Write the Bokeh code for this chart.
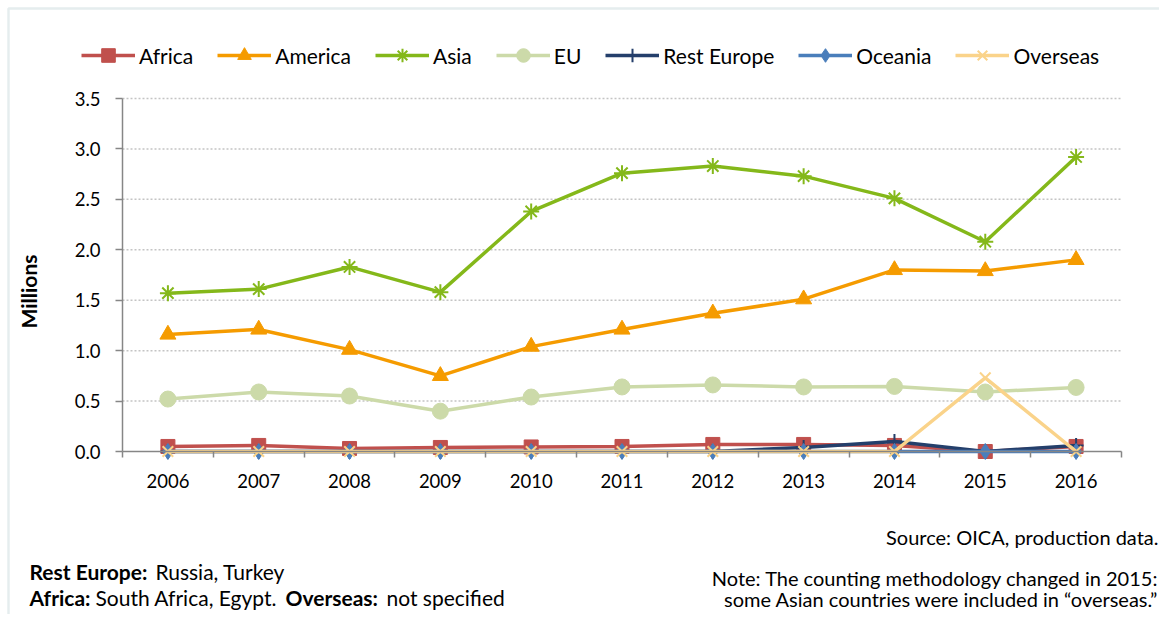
import math
from bokeh.plotting import figure
from bokeh.models import (Range1d, FixedTicker, NumeralTickFormatter, Legend, LegendItem, Label, BoxAnnotation)
from bokeh.embed import file_html
from bokeh.resources import INLINE

years = ["2006", "2007", "2008", "2009", "2010", "2011", "2012", "2013", "2014", "2015", "2016"]
africa = [0.05, 0.06, 0.03, 0.04, 0.045, 0.05, 0.07, 0.07, 0.06, 0.0, 0.05]
america = [1.16, 1.21, 1.01, 0.75, 1.04, 1.21, 1.37, 1.51, 1.80, 1.79, 1.90]
asia = [1.57, 1.61, 1.83, 1.58, 2.38, 2.76, 2.83, 2.73, 2.51, 2.08, 2.92]
eu = [0.52, 0.59, 0.55, 0.40, 0.54, 0.64, 0.66, 0.64, 0.645, 0.59, 0.635]
rest_europe = [0.0, 0.0, 0.0, 0.0, 0.0, 0.0, 0.0, 0.04, 0.10, 0.0, 0.06]
oceania = [0.0, 0.0, 0.0, 0.0, 0.0, 0.0, 0.0, 0.0, 0.0, 0.0, 0.0]
overseas = [0.0, 0.0, 0.0, 0.0, 0.0, 0.0, 0.0, 0.0, 0.0, 0.73, 0.0]
y_ticks = [0.0, 0.5, 1.0, 1.5, 2.0, 2.5, 3.0, 3.5]

FONT = "Lato"
idx = list(range(len(years)))
n = len(years)
x_lo, x_hi = -0.5, n - 0.5
y_lo, y_hi = y_ticks[0], y_ticks[-1]

W, H = 1159, 614
# plot-area placement on the canvas (pixels)
PL, PR, PT, PB = 122, 1121, 98, 451
xpu = (PR - PL) / (x_hi - x_lo)
ypu = (PB - PT) / (y_hi - y_lo)
xr = Range1d(x_lo - PL / xpu, x_hi + (W - PR) / xpu)
yr = Range1d(y_lo - (H - PB) / ypu, y_hi + PT / ypu)

p = figure(width=W, height=H, output_backend="svg", toolbar_location=None,
           x_range=xr, y_range=yr, min_border=0,
           min_border_left=0, min_border_right=0, min_border_top=0, min_border_bottom=0)
p.outline_line_color = None
p.background_fill_color = "white"
p.border_fill_color = "white"
p.grid.visible = False

# chart border
p.add_layout(BoxAnnotation(left=8, right=W + 50, bottom=-50, top=H - 8,
                           left_units="screen", right_units="screen",
                           bottom_units="screen", top_units="screen",
                           fill_color=None, line_color="#a9c4c6", line_width=2.5))

# dotted value gridlines
gy = y_ticks[1:]
p.segment(x0=[x_lo] * len(gy), y0=gy, x1=[x_hi] * len(gy), y1=gy,
          line_color="#c4c4c4", line_dash="2 2", line_width=1.5)

# axes
xa = p.xaxis[0]
xa.fixed_location = 0
xa.bounds = (x_lo, x_hi)
xa.ticker = FixedTicker(ticks=idx, minor_ticks=[i - 0.5 for i in range(n + 1)])
xa.major_label_overrides = {i: y for i, y in zip(idx, years)}
xa.major_tick_out = 0
xa.major_tick_in = 0
xa.minor_tick_out = 6
xa.minor_tick_in = 0
xa.minor_tick_line_color = "#868686"
xa.minor_tick_line_width = 1.5
xa.axis_line_color = "#868686"
xa.axis_line_width = 1.5
xa.major_label_text_font = FONT
xa.major_label_text_font_size = "18.5px"
xa.major_label_text_color = "#000000"
xa.major_label_standoff = 16

ya = p.yaxis[0]
ya.fixed_location = x_lo
ya.bounds = (y_lo, y_hi)
ya.ticker = FixedTicker(ticks=y_ticks)
ya.formatter = NumeralTickFormatter(format="0.0")
ya.minor_tick_line_color = None
ya.major_tick_out = 7
ya.major_tick_in = 0
ya.major_tick_line_color = "#868686"
ya.major_tick_line_width = 1.5
ya.axis_line_color = "#868686"
ya.axis_line_width = 1.5
ya.major_label_text_font = FONT
ya.major_label_text_font_size = "18.5px"
ya.major_label_text_color = "#000000"
ya.major_label_standoff = 15

series = [
    ("Africa", africa, "#C0504D", "square", 14, 0),
    ("America", america, "#F59B00", "triangle", 16, 0),
    ("Asia", asia, "#84B81A", "asterisk", 16, 2),
    ("EU", eu, "#CCDAA9", "circle", 16, 0),
    ("Rest Europe", rest_europe, "#243F6B", "cross", 15, 2),
    ("Oceania", oceania, "#4A7EBB", "diamond", 16, 0),
    ("Overseas", overseas, "#FAD38A", "x", 15, 2),
]

items = []
for name, vals, col, mk, sz, mlw in series:
    r1 = p.line(idx, vals, line_color=col, line_width=3.5)
    if mlw:
        r2 = p.scatter(idx, vals, marker=mk, size=sz, line_color=col, line_width=mlw, fill_color=col)
    else:
        r2 = p.scatter(idx, vals, marker=mk, size=sz, line_color=col, fill_color=col, line_width=1)
    items.append(LegendItem(label=name, renderers=[r1, r2]))

GH = 34
legend = Legend(items=items, orientation="horizontal", location=(81, H - 55 - GH / 2),
                glyph_width=54, glyph_height=GH, label_standoff=4, spacing=24,
                padding=0, margin=0, border_line_color=None, background_fill_alpha=0,
                label_text_font=FONT, label_text_font_size="21px", label_text_color="#000000",
                label_height=GH)
p.add_layout(legend, "center")


def lab(text, px, py, align="left", bold=False, size="20px", angle=0.0):
    p.add_layout(Label(x=px, y=H - py, x_units="screen", y_units="screen", text=text,
                       text_align=align, text_baseline="middle", text_font=FONT,
                       text_font_size=size, text_font_style="bold" if bold else "normal",
                       text_color="#000000", angle=angle))

# y-axis title
lab("Millions", 28, 291, align="center", bold=True, size="21px", angle=math.pi / 2)

lab("Source: OICA, production data.", 1158, 536, align="right")
lab("Note: The counting methodology changed in 2015:", 1158, 577, align="right")
lab("some Asian countries were included in \u201coverseas.\u201d", 1158, 598, align="right")
lab("Rest Europe:", 29, 571, bold=True, size="21px")
lab("Russia, Turkey", 155, 571, size="21px")
lab("Africa:", 29, 597, bold=True, size="21px")
lab("South Africa, Egypt.", 95, 597, size="21px")
lab("Overseas:", 285, 597, bold=True, size="21px")
lab("not specified", 386, 597, size="21px")

open("out.html", "w").write(file_html(p, INLINE))
